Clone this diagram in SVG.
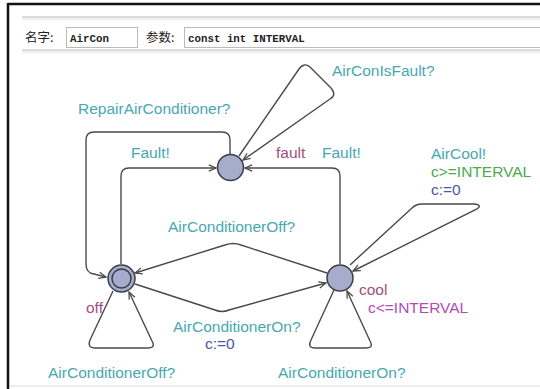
<svg xmlns="http://www.w3.org/2000/svg" width="540" height="389" viewBox="0 0 540 389">
<style>
.edge{fill:none;stroke:#4a4a4a;stroke-width:1.4;marker-end:url(#arr)}
.node{fill:#a5accc;stroke:#3c3c4a;stroke-width:1.5}
.lbl{font-family:"Liberation Sans",Arial,sans-serif;font-size:15.5px}
.sync{fill:#47a8b2}
.name{fill:#a04f80}
.inv{fill:#b04cb4}
.guard{fill:#4caa4c}
.upd{fill:#4c56a8}
.hdr{font-family:"Noto Sans CJK SC","Liberation Sans",sans-serif;font-size:12.5px;fill:#222}
.mono{font-family:"Liberation Mono","Courier New",monospace;font-size:10.8px;font-weight:bold;fill:#222}
</style>
<defs>
<marker id="arr" viewBox="0 0 10 10" refX="9" refY="5" markerWidth="9" markerHeight="9" markerUnits="userSpaceOnUse" orient="auto">
<path d="M1,1.5 L9,5 L1,8.5" fill="none" stroke="#4a4a4a" stroke-width="1.4"/>
</marker>
</defs>
<rect x="0" y="0" width="540" height="389" fill="#fff"/>
<g id="frame">
<line x1="8" y1="4" x2="540" y2="4" stroke="#111" stroke-width="2.5"/>
<line x1="8" y1="3" x2="8" y2="389" stroke="#111" stroke-width="2.5"/>
<line x1="22" y1="17" x2="540" y2="17" stroke="#bbb" stroke-width="1"/>
<line x1="22" y1="19" x2="540" y2="19" stroke="#ddd" stroke-width="1"/>
<line x1="22" y1="50" x2="540" y2="50" stroke="#bbb" stroke-width="1"/>
<line x1="22" y1="52" x2="540" y2="52" stroke="#ddd" stroke-width="1"/>
<line x1="10" y1="386" x2="540" y2="386" stroke="#ddd" stroke-width="1"/>
</g>
<g id="header">
<text class="hdr" x="25" y="42">名字:</text>
<rect x="66.5" y="27.5" width="71" height="20" fill="#fff" stroke="#bbb"/>
<text class="mono" x="70" y="41.5">AirCon</text>
<text class="hdr" x="146" y="42">参数:</text>
<rect x="184.5" y="27.5" width="360" height="20" fill="#fff" stroke="#bbb"/>
<text class="mono" x="188" y="41.5">const int INTERVAL</text>
</g>
<g id="connectors">
<path class="edge" d="M230,154 V140 Q230,132 222,132 H94 Q86,132 86,140 V264 Q86,273 94,274 L106,277"/>
<path class="edge" d="M121,264 V176 Q121,168 129,168 H216"/>
<path class="edge" d="M340,264 V176 Q340,168 332,168 H245"/>
<path class="edge" d="M239,156 L299,69 Q304,62 310,67 L331,88 Q337,95 330,99 L243,160"/>
<path class="edge" d="M327,273 L241,245 Q233,242 225,245 L135,273"/>
<path class="edge" d="M135,284 L215,310 Q222,313 229,310 L326,283"/>
<path class="edge" d="M113,291 L90,340 Q87,348 95,348 H148 Q156,348 152,341 L129,292"/>
<path class="edge" d="M334,290 L311,340 Q307,348 315,348 H366 Q374,348 370,341 L347,291"/>
<path class="edge" d="M350,265 L412,208 Q416,204 422,204 H474 Q483,205 477,209 L353,271"/>
</g>
<g id="fault">
<circle class="node" cx="230.5" cy="167.5" r="13"/>
<text class="lbl name" x="276" y="158">fault</text>
</g>
<g id="off">
<circle class="node" cx="121.5" cy="278.5" r="13.5"/>
<circle class="node" cx="121.5" cy="278.5" r="9.5"/>
<text class="lbl name" x="86" y="313">off</text>
</g>
<g id="cool">
<circle class="node" cx="340" cy="278" r="13"/>
<text class="lbl name" x="359" y="295">cool</text>
<text class="lbl inv" x="368" y="313">c&lt;=INTERVAL</text>
</g>
<g id="labels">
<text class="lbl sync" x="332" y="76">AirConIsFault?</text>
<text class="lbl sync" x="78" y="114">RepairAirConditioner?</text>
<text class="lbl sync" x="131" y="158">Fault!</text>
<text class="lbl sync" x="322" y="158">Fault!</text>
<text class="lbl sync" x="431" y="159">AirCool!</text>
<text class="lbl guard" x="431" y="177">c&gt;=INTERVAL</text>
<text class="lbl upd" x="431" y="195">c:=0</text>
<text class="lbl sync" x="168" y="232">AirConditionerOff?</text>
<text class="lbl sync" x="173" y="332">AirConditionerOn?</text>
<text class="lbl upd" x="205" y="349">c:=0</text>
<text class="lbl sync" x="48" y="378">AirConditionerOff?</text>
<text class="lbl sync" x="278" y="378">AirConditionerOn?</text>
</g>
</svg>
